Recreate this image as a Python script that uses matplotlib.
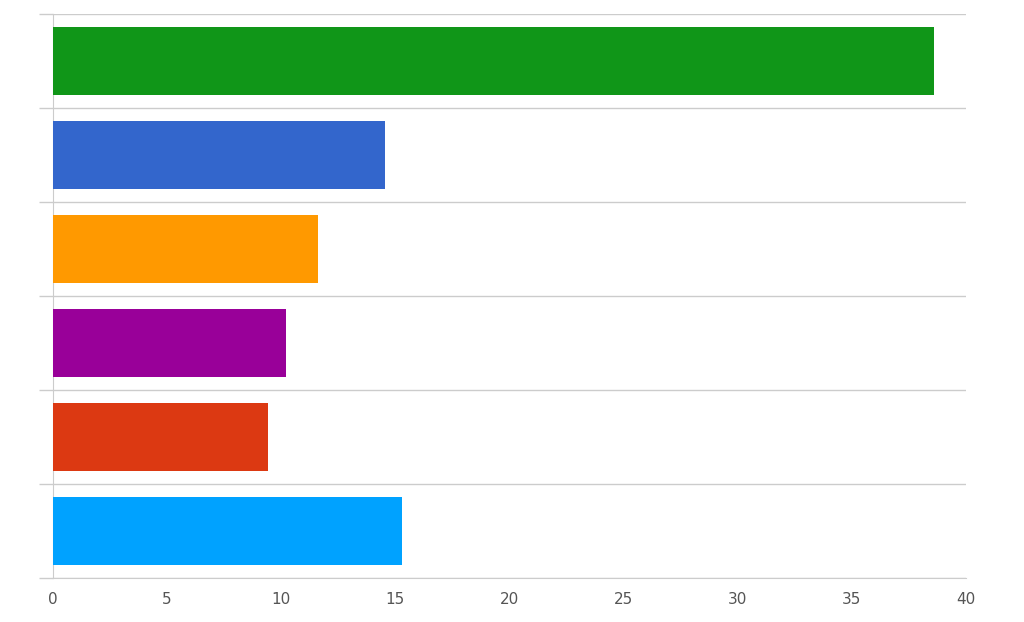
import matplotlib.pyplot as plt

values = [38.6, 14.55, 11.6, 10.2, 9.4, 15.3]
colors = ['#109618', '#3366cc', '#ff9900', '#990099', '#dc3912', '#00a2ff']
xticks = [0, 5, 10, 15, 20, 25, 30, 35, 40]

fig = plt.figure(figsize=(10.24, 6.22), dpi=100)
ax = fig.add_axes([0.0518, 0.0707, 0.8916, 0.9068])

ypos = list(range(len(values)))
ax.barh(ypos, values, height=0.72, color=colors, zorder=3)
ax.set_ylim(len(values) - 0.5, -0.5)
ax.set_xlim(0, 40)

# category separators
for b in [i - 0.5 for i in range(len(values) + 1)]:
    ax.axhline(b, color='#cccccc', lw=1, zorder=1)
ax.set_yticks([i - 0.5 for i in range(len(values) + 1)])
ax.set_yticklabels([])
ax.tick_params(axis='y', length=10, color='#cccccc', width=1)

ax.set_xticks(xticks)
ax.set_xticklabels([str(t) for t in xticks])
ax.tick_params(axis='x', length=0, pad=10, labelsize=11, labelcolor='#555555')

for s in ['top', 'right']:
    ax.spines[s].set_visible(False)
ax.spines['left'].set_color('#cccccc')
ax.spines['bottom'].set_color('#cccccc')

fig.savefig('out.png', dpi=100)
